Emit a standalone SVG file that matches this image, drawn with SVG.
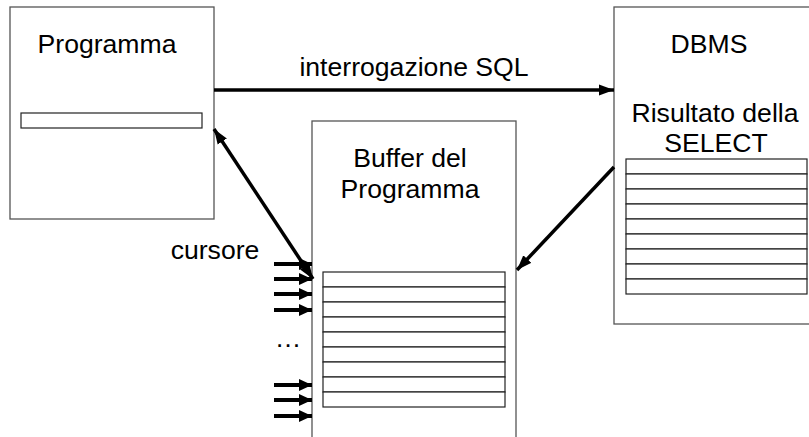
<svg xmlns="http://www.w3.org/2000/svg" width="809" height="437" viewBox="0 0 809 437">
<defs>
<marker id="ah" markerUnits="userSpaceOnUse" markerWidth="16" markerHeight="12" refX="15" refY="6" orient="auto-start-reverse">
<path d="M0,0.5 L15,6 L0,11.5 Z" fill="#000"/>
</marker>
<marker id="ahs" markerUnits="userSpaceOnUse" markerWidth="14" markerHeight="14" refX="13" refY="7" orient="auto">
<path d="M0,1 L13,7 L0,13 Z" fill="#000"/>
</marker>
</defs>
<style>
.box{fill:#fff;stroke:#555;stroke-width:1.3}
.row{fill:#fff;stroke:#222;stroke-width:1.2}
.t{font-family:"Liberation Sans",Arial,sans-serif;font-size:26.6px;fill:#000}
.c{stroke:#000;stroke-width:3.5;fill:none}
.cur{stroke:#000;stroke-width:4;fill:none}
</style>
<rect width="809" height="437" fill="#fff"/>
<g id="programma">
<rect class="box" x="10" y="7" width="204" height="212"/>
<text class="t" x="107" y="53" text-anchor="middle">Programma</text>
<rect class="row" x="21" y="113" width="181" height="15"/>
</g>
<g id="dbms">
<rect class="box" x="614" y="7" width="205" height="317"/>
<text class="t" x="709" y="53" text-anchor="middle">DBMS</text>
<text class="t" x="715" y="122" text-anchor="middle">Risultato della</text>
<text class="t" x="716" y="152" text-anchor="middle">SELECT</text>
<g id="risultato">
<rect class="row" x="626" y="159" width="181" height="15"/>
<rect class="row" x="626" y="174" width="181" height="15"/>
<rect class="row" x="626" y="189" width="181" height="15"/>
<rect class="row" x="626" y="204" width="181" height="15"/>
<rect class="row" x="626" y="219" width="181" height="15"/>
<rect class="row" x="626" y="234" width="181" height="15"/>
<rect class="row" x="626" y="249" width="181" height="15"/>
<rect class="row" x="626" y="264" width="181" height="15"/>
<rect class="row" x="626" y="279" width="181" height="15"/>
</g>
</g>
<g id="buffer">
<rect class="box" x="312" y="121" width="204" height="330"/>
<text class="t" x="410" y="167" text-anchor="middle">Buffer del</text>
<text class="t" x="410" y="198" text-anchor="middle">Programma</text>
<g id="righe">
<rect class="row" x="323" y="272" width="182" height="15"/>
<rect class="row" x="323" y="287" width="182" height="15"/>
<rect class="row" x="323" y="302" width="182" height="15"/>
<rect class="row" x="323" y="317" width="182" height="15"/>
<rect class="row" x="323" y="332" width="182" height="15"/>
<rect class="row" x="323" y="347" width="182" height="15"/>
<rect class="row" x="323" y="362" width="182" height="15"/>
<rect class="row" x="323" y="377" width="182" height="15"/>
<rect class="row" x="323" y="392" width="182" height="15"/>
</g>
</g>
<g id="labels">
<text class="t" x="414" y="76" text-anchor="middle">interrogazione SQL</text>
<text class="t" x="215" y="259" text-anchor="middle">cursore</text>
<text class="t" x="288" y="347" text-anchor="middle">…</text>
</g>
<g id="connectors">
<line class="c" x1="214" y1="90" x2="614" y2="90" marker-end="url(#ah)"/>
<line class="c" x1="214" y1="129" x2="313" y2="279" marker-start="url(#ah)" marker-end="url(#ah)"/>
<line class="c" x1="614" y1="167" x2="517" y2="270" marker-end="url(#ah)"/>
<line class="cur" x1="274" y1="264" x2="312" y2="264" marker-end="url(#ahs)"/>
<line class="cur" x1="274" y1="279" x2="312" y2="279" marker-end="url(#ahs)"/>
<line class="cur" x1="274" y1="294" x2="312" y2="294" marker-end="url(#ahs)"/>
<line class="cur" x1="274" y1="310" x2="312" y2="310" marker-end="url(#ahs)"/>
<line class="cur" x1="274" y1="385" x2="312" y2="385" marker-end="url(#ahs)"/>
<line class="cur" x1="274" y1="400" x2="312" y2="400" marker-end="url(#ahs)"/>
<line class="cur" x1="274" y1="416" x2="312" y2="416" marker-end="url(#ahs)"/>
</g>
</svg>
